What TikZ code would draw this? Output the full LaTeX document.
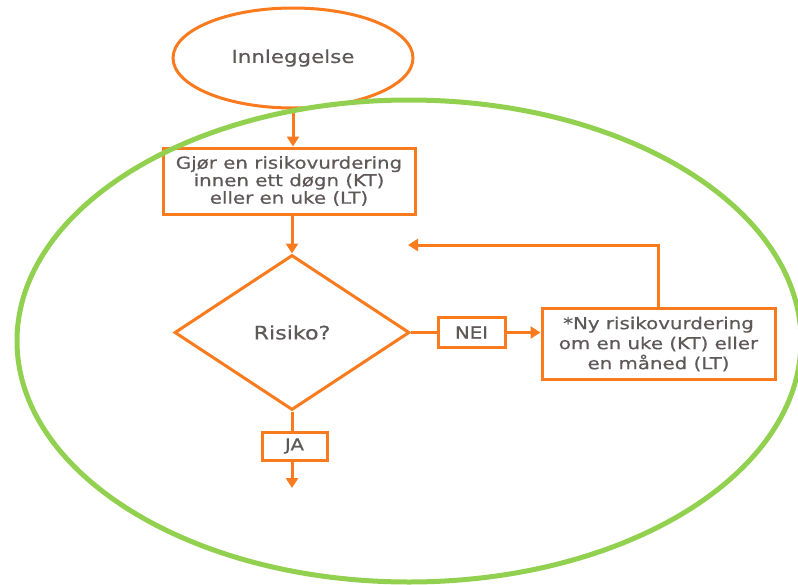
\documentclass[tikz,border=0pt]{standalone}
\usepackage{fontspec}
\setmainfont{DejaVu Sans}[FakeStretch=1.2,FakeBold=0.6]
\usetikzlibrary{shapes.geometric,arrows.meta}
\definecolor{org}{RGB}{250,122,30}
\definecolor{grn}{RGB}{146,208,80}
\definecolor{txt}{RGB}{95,88,88}
\begin{document}
\begin{tikzpicture}[x=1pt,y=-1pt,
  every node/.style={text=txt, font=\fontsize{16.5}{18}\selectfont},
  fbox/.style={draw=org, line width=3pt, rectangle, inner sep=0pt, align=center},
  conn/.style={draw=org, line width=3pt},
  arr/.style={conn, -{Triangle[width=12pt,length=10pt]}}]
\useasboundingbox (0,0) rectangle (798,584);
\node[draw=org, line width=3pt, ellipse, minimum width=240pt, minimum height=100pt, inner sep=0pt, font=\fontsize{17.8}{20}\selectfont] (start) at (293,58) {Innleggelse};
\node[fbox, minimum width=252pt, minimum height=66pt, font=\fontsize{16.5}{17.5}\selectfont] (b1) at (289,181) {Gjør en risikovurdering\\innen ett døgn (KT)\\eller en uke (LT)};
\node[draw=org, line width=3pt, diamond, aspect=1.516, minimum width=235pt, minimum height=155pt, inner sep=0pt, font=\fontsize{18.5}{20}\selectfont] (d) at (292,332.5) {Risiko?};
\node[fbox, minimum width=67pt, minimum height=30pt] (nei) at (471.5,332.5) {NEI};
\node[fbox, minimum width=233pt, minimum height=71pt, font=\fontsize{16.5}{20}\selectfont] (b2) at (658.5,344) {*Ny risikovurdering\\om en uke (KT) eller\\en måned (LT)};
\node[fbox, minimum width=65pt, minimum height=28pt] (ja) at (294.5,446) {JA};
\coordinate (loopend) at (408,245);
\coordinate (jaend) at (292,488);
\draw[arr] (start.south) -- (start.south |- b1.north);
\draw[arr] (d.north |- b1.south) -- (d.north);
\draw[conn] (d.east) -- (nei.west);
\draw[arr] (nei.east) -- (nei.east -| b2.west);
\draw[arr] (b2.north) |- (loopend);
\draw[conn] (d.south) -- (d.south |- ja.north);
\draw[arr] (ja.south -| d.south) -- (jaend);
\draw[grn, line width=5pt] (409,341) ellipse [x radius=392, y radius=241];
\end{tikzpicture}
\end{document}
